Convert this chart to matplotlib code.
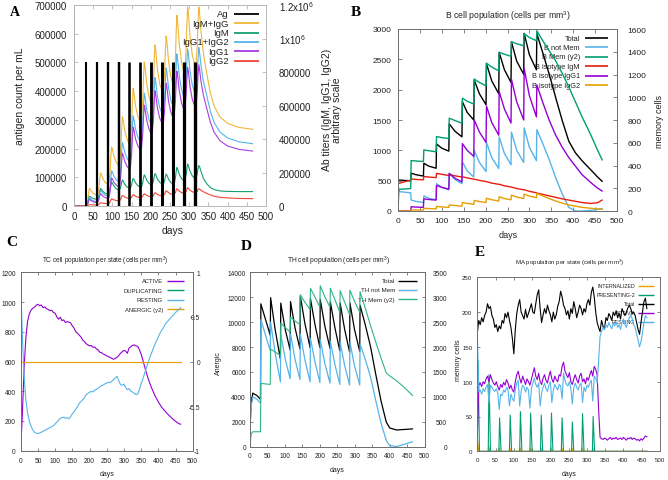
import numpy as np
import matplotlib.pyplot as plt

plt.rcParams['font.family'] = ['Liberation Sans', 'DejaVu Sans']
plt.rcParams['mathtext.fontset'] = 'custom'
plt.rcParams['mathtext.rm'] = 'Liberation Sans'

FW, FH = 668, 481

# ---------------- A: antigen and antibody titers ----------------
ag_days = [0, 30, 59, 88, 116, 144, 173, 201, 230, 258, 286, 315]
ag_peak = [675000, 500000, 500000, 500000, 500000, 500000,
           500000, 500000, 500000, 500000, 500000, 500000]

ab_days = [0, 10, 20,
           30, 33, 36, 38, 40, 42, 46, 52,
           59, 62, 65, 67, 69, 71, 75, 81,
           88, 91, 94, 96, 98, 100, 104, 110,
           116, 119, 122, 124, 126, 128, 132, 138,
           144, 147, 150, 152, 154, 156, 160, 166,
           173, 176, 179, 181, 183, 185, 189, 195,
           201, 204, 207, 209, 211, 213, 217, 223,
           230, 233, 236, 238, 240, 242, 246, 252,
           258, 261, 264, 266, 268, 270, 274, 280,
           286, 289, 292, 294, 296, 298, 302, 308,
           315, 318, 321, 323, 325, 327, 331, 337,
           345, 355, 365, 380, 400, 430, 465]
# titers in thousands
igm_k = [0, 0, 0,
         0, 3, 20, 44, 58, 56, 49, 43,
         40, 43, 63, 89, 105, 101, 88, 76,
         70, 74, 95, 124, 142, 136, 119, 103,
         95, 98, 116, 140, 155, 149, 130, 114,
         105, 108, 126, 150, 165, 159, 139, 122,
         112, 116, 138, 168, 186, 179, 156, 136,
         125, 128, 149, 177, 194, 186, 162, 142,
         130, 133, 151, 176, 191, 184, 161, 141,
         130, 135, 165, 205, 230, 220, 190, 164,
         150, 155, 185, 225, 250, 240, 208, 180,
         165, 169, 192, 223, 242, 235, 205, 165,
         135, 110, 98, 90, 87, 86, 86]
igg1_k = [0, 0, 0,
          0, 2, 14, 29, 39, 37, 30, 24,
          20, 23, 39, 60, 73, 70, 59, 50,
          45, 51, 88, 137, 167, 161, 141, 125,
          115, 125, 185, 265, 315, 304, 268, 237,
          220, 233, 308, 408, 471, 455, 403, 360,
          335, 348, 428, 535, 601, 580, 516, 461,
          430, 443, 520, 624, 688, 664, 589, 526,
          490, 502, 575, 672, 733, 708, 629, 562,
          525, 539, 623, 735, 805, 777, 690, 616,
          575, 588, 664, 766, 829, 801, 712, 637,
          595, 607, 682, 781, 843, 815, 740, 660,
          590, 500, 440, 390, 358, 338, 328]
igg2_k = [0, 0, 0,
          0, 0, 3, 6, 8, 8, 7, 6,
          5, 6, 10, 16, 20, 19, 17, 15,
          14, 15, 24, 36, 43, 41, 37, 33,
          30, 32, 42, 55, 63, 61, 54, 48,
          45, 46, 53, 62, 67, 66, 59, 53,
          50, 51, 58, 67, 73, 71, 64, 58,
          55, 56, 63, 73, 79, 77, 70, 63,
          60, 62, 71, 83, 91, 88, 80, 72,
          68, 70, 80, 94, 103, 100, 89, 80,
          75, 77, 87, 101, 109, 105, 95, 85,
          80, 81, 88, 97, 103, 101, 93, 85,
          76, 66, 58, 52, 48, 45, 44]

# ---------------- B: B cell population ----------------
b_days = [0, 2, 29, 30, 40, 58, 59, 70, 87, 88, 100, 116, 117, 130, 146,
          147, 158, 173, 174, 186, 201, 202, 214, 230, 231, 243, 258, 259,
          271, 287, 288, 300, 316, 317, 330, 345, 360, 375, 390, 405, 420,
          440, 455, 466]
b_not_mem = [480, 320, 300, 180, 160, 140, 250, 210, 185, 450, 390, 350,
             620, 520, 450, 810, 660, 560, 1000, 800, 650, 1130, 880, 700,
             1220, 950, 760, 1300, 1000, 800, 1370, 1050, 830, 1340, 1120,
             850, 550, 280, 60, 0, 0, 10, 25, 40]
b_mem = [0, 190, 197, 443, 440, 435, 537, 530, 520, 655, 645, 637, 816,
         795, 772, 992, 965, 940, 1160, 1130, 1101, 1300, 1265, 1233, 1395,
         1378, 1360, 1489, 1470, 1453, 1559, 1525, 1497, 1585, 1500, 1410,
         1320, 1210, 1090, 960, 830, 670, 540, 450]
b_igm = [450, 455, 510, 530, 520, 515, 570, 560, 550, 620, 605, 585, 600,
         580, 560, 565, 545, 525, 525, 505, 485, 485, 460, 440, 440, 415,
         395, 395, 370, 350, 350, 325, 300, 295, 275, 250, 225, 200, 180,
         160, 140, 125, 135, 180]
b_igg1 = [0, 0, 0, 70, 65, 60, 200, 190, 180, 420, 390, 360, 620, 540, 480,
          1110, 1000, 900, 1500, 1300, 1130, 1730, 1460, 1250, 1970, 1680,
          1450, 2170, 1800, 1500, 2350, 1900, 1550, 2080, 1800, 1500, 1250,
          1050, 880, 740, 600, 470, 380, 330]
b_igg2 = [0, 0, 0, 20, 17, 15, 45, 40, 35, 75, 67, 60, 100, 90, 80, 140,
          125, 110, 175, 155, 140, 210, 185, 165, 235, 205, 185, 260, 230,
          205, 280, 245, 220, 290, 250, 205, 165, 130, 100, 80, 60, 45, 35,
          30]

# ---------------- C: TC cells per state ----------------
tc_days = list(range(0, 466, 5))
tc_active = [0, 260, 560, 760, 870, 920, 945, 958, 965, 978, 985, 975, 980,
             962, 968, 955, 950, 942, 945, 930, 925, 900, 885, 898, 875, 880,
             862, 868, 865, 860, 840, 825, 800, 790, 778, 765, 745, 735, 720,
             712, 705, 708, 695, 698, 685, 678, 662, 660, 650, 645, 638, 632,
             628, 620, 615, 622, 628, 640, 655, 665, 675, 670, 655, 690, 700,
             708, 712, 705, 702, 680, 650, 610, 568, 525, 490, 455, 425, 398,
             372, 350, 328, 310, 292, 278, 265, 252, 240, 230, 218, 207, 198,
             190, 182, 178]
tc_resting = [1120, 760, 500, 340, 255, 200, 165, 140, 125, 118, 115, 120,
              125, 130, 138, 142, 150, 155, 162, 168, 180, 192, 205, 218, 222,
              225, 218, 222, 215, 228, 248, 262, 280, 295, 318, 330, 342, 355,
              375, 385, 392, 400, 395, 408, 412, 420, 430, 438, 442, 450, 455,
              460, 458, 468, 478, 490, 500, 470, 445, 440, 448, 425, 410, 418,
              400, 395, 385, 378, 380, 410, 450, 480, 520, 555, 590, 625, 655,
              685, 715, 740, 765, 790, 810, 828, 850, 865, 878, 890, 905, 915,
              930, 940, 950, 962]
tc_dup_days = [0, 465]
tc_dup = [0, 0]
tc_anergic = [0, 0]

# ---------------- D: TH cells ----------------
th_days = [0, 3, 8, 20, 30, 31, 45, 58, 59, 72, 87, 88, 101, 115, 116, 129,
           143, 144, 157, 172, 173, 186, 200, 201, 214, 229, 230, 243, 257,
           258, 271, 285, 286, 299, 314, 315, 330, 345, 360, 375, 390, 400,
           420, 440, 465]
th_not_mem = [1400, 3200, 4000, 3800, 3500, 10200, 8900, 7700, 10000, 7500,
              5200, 9050, 7000, 5450, 9050, 7000, 5400, 9050, 7000, 5200,
              8700, 6800, 5150, 8600, 6700, 5100, 8450, 6600, 5000, 8400,
              6500, 4950, 8400, 6500, 4950, 8250, 7000, 5600, 3700, 1900,
              500, 80, 20, 180, 400]
th_mem = [0, 250, 300, 300, 300, 1270, 1260, 1250, 1960, 1900, 1830, 2480,
          2390, 2300, 2600, 2520, 2450, 3050, 2900, 2750, 3180, 3000, 2800,
          3230, 3010, 2800, 3180, 2950, 2700, 3130, 2900, 2650, 3140, 2920,
          2700, 3110, 2780, 2430, 2100, 1780, 1480, 1420, 1320, 1200, 1030]

# ---------------- E: MA cells per state ----------------
ma_days = list(range(0, 465, 4))
ma_active = [18, 95, 98, 93, 100, 97, 104, 108, 100, 110,
             103, 98, 95, 100, 93, 88, 96, 92, 99, 95,
             103, 98, 90, 95, 88, 85, 100, 110, 115, 105,
             98, 108, 102, 96, 104, 100, 95, 103, 112, 120,
             108, 103, 112, 100, 96, 105, 110, 102, 98, 108,
             115, 104, 99, 108, 103, 100, 110, 108, 122, 128,
             115, 110, 106, 113, 100, 96, 104, 110, 103, 98,
             108, 112, 100, 104, 97, 106, 102, 110, 116, 108,
             122, 118, 110, 60, 20, 18, 17, 19, 18, 16,
             18, 20, 17, 19, 18, 20, 17, 18, 19, 17,
             20, 18, 16, 19, 18, 20, 17, 19, 18, 16,
             17, 15, 18, 16, 19, 22, 21]
ma_resting = [170, 85, 88, 82, 90, 86, 92, 96, 70, 95,
              92, 88, 86, 90, 84, 60, 82, 80, 88, 85,
              92, 88, 65, 82, 76, 72, 88, 98, 102, 65,
              86, 95, 92, 85, 92, 88, 62, 90, 98, 105,
              96, 92, 98, 65, 84, 92, 98, 90, 86, 95,
              100, 70, 88, 96, 92, 88, 96, 94, 75, 112,
              102, 96, 94, 100, 90, 68, 92, 98, 92, 88,
              95, 98, 70, 92, 86, 95, 92, 98, 102, 72,
              108, 105, 98, 130, 165, 172, 178, 175, 182, 178,
              185, 180, 176, 184, 180, 186, 178, 182, 175, 185,
              190, 182, 178, 186, 192, 196, 190, 182, 178, 168,
              160, 150, 158, 170, 185, 195, 192]
ma_total = [170, 188, 182, 192, 186, 195, 200, 212, 205, 208,
            195, 190, 178, 182, 172, 180, 176, 188, 184, 198,
            192, 200, 188, 178, 162, 140, 175, 198, 210, 218,
            200, 195, 190, 204, 192, 198, 205, 212, 200, 198,
            212, 225, 232, 205, 185, 196, 205, 198, 210, 202,
            196, 186, 200, 190, 196, 208, 215, 230, 222, 210,
            205, 196, 202, 190, 205, 198, 215, 205, 192, 200,
            210, 205, 196, 205, 200, 212, 218, 210, 228, 236,
            222, 200, 185, 178, 172, 188, 180, 175, 192, 188,
            198, 194, 188, 200, 195, 202, 192, 198, 190, 205,
            200, 195, 200, 206, 210, 205, 198, 200, 195, 185,
            175, 168, 185, 200, 215, 220, 205]
pres_days = [0, 2, 6, 30, 32, 36, 59, 61, 65, 88, 90, 94, 116, 118, 122,
             144, 146, 150, 173, 175, 179, 201, 203, 207, 230, 232, 236,
             258, 260, 264, 286, 288, 292, 315, 317, 321, 465]
pres_vals = [0, 130, 0, 0, 110, 0, 0, 48, 0, 0, 52, 0, 0, 57, 0, 0, 55, 0,
             0, 52, 0, 0, 55, 0, 0, 48, 0, 0, 42, 0, 0, 54, 0, 0, 50, 0, 0]
int_days = [0, 1, 4, 30, 31, 34, 59, 60, 63, 88, 89, 92, 116, 117, 120,
            144, 145, 148, 173, 174, 177, 201, 202, 205, 230, 231, 234,
            258, 259, 262, 286, 287, 290, 315, 316, 319, 465]
int_vals = [0, 15, 0, 0, 8, 0, 0, 5, 0, 0, 5, 0, 0, 5, 0, 0, 5, 0,
            0, 5, 0, 0, 5, 0, 0, 5, 0, 0, 5, 0, 0, 5, 0, 0, 5, 0, 0]

# colours (gnuplot-like)
BLACK = '#000000'
ORANGE = '#e69f00'
GREEN = '#009e73'
LBLUE = '#56b4e9'
PURPLE = '#9400d3'
RED = '#e51e10'
TXT = '#222222'

fig = plt.figure(figsize=(FW / 100, FH / 100), dpi=100)


def box(l, t, r, b):
    return [l / FW, 1 - b / FH, (r - l) / FW, (b - t) / FH]


def ftext(x, y, s, **kw):
    fig.text(x / FW, 1 - y / FH, s, ha='center', va='center', color=TXT, **kw)


def style(ax, fc, fs, tl, xpad, ypad):
    for s in ax.spines.values():
        s.set_color(fc)
        s.set_linewidth(0.7)
    ax.tick_params(direction='in', length=tl, width=0.6, color=fc,
                   labelcolor=TXT, labelsize=fs)
    ax.tick_params(axis='x', pad=xpad, top=True)
    ax.tick_params(axis='y', pad=ypad)


def key(ax, labels, colors, xt, x0, x1, y0, dy, fs, lw=1.2):
    # gnuplot style key: text right aligned, sample line after it
    for i, (lab, c) in enumerate(zip(labels, colors)):
        y = y0 - i * dy
        ax.text(xt, y, lab, transform=ax.transAxes, ha='right', va='center',
                fontsize=fs, color=TXT, zorder=1)
        ax.plot([x0, x1], [y, y], transform=ax.transAxes, color=c, lw=lw,
                zorder=1, solid_capstyle='butt')


xt = list(range(0, 501, 50))

# ---------------- panel A ----------------
axA = fig.add_axes(box(74, 6, 266, 207))
axA2 = axA.twinx()
axA.set_zorder(2)
axA.patch.set_visible(False)
tot_k = np.array(igm_k) + np.array(igg1_k) + np.array(igg2_k)
g12_k = np.array(igg1_k) + np.array(igg2_k)
axA2.plot(ab_days, tot_k * 1000, color='#f0b63a', lw=0.8)
axA2.plot(ab_days, np.array(igm_k) * 1000, color='#16a070', lw=0.8)
axA2.plot(ab_days, g12_k * 1000, color=LBLUE, lw=0.8)
axA2.plot(ab_days, np.array(igg1_k) * 1000, color='#a83ee0', lw=0.8)
axA2.plot(ab_days, np.array(igg2_k) * 1000, color='#f0483a', lw=0.8)
axA.vlines(ag_days, 0, ag_peak, colors=BLACK,
           linewidths=np.linspace(1.4, 2.4, len(ag_days)))
axA.set_xlim(0, 500)
axA.set_ylim(0, 700000)
axA2.set_ylim(0, 1200000)
axA.set_xticks(xt)
yA = list(range(0, 700001, 100000))
axA.set_yticks(yA)
axA.set_yticklabels([str(v) for v in yA])
yA2 = list(range(0, 1200001, 200000))
axA2.set_yticks(yA2)
axA2.set_yticklabels(['0', '200000', '400000', '600000', '800000',
                      r'1x10$^6$', r'1.2x10$^6$'])
style(axA, '#b8b8b8', 7, 3, 3.5, 5)
style(axA2, '#b8b8b8', 7, 3, 3.5, 9)
axA.tick_params(axis='y', right=False)
key(axA, ['Ag', 'IgM+IgG', 'IgM', 'IgG1+IgG2', 'IgG1', 'IgG2'],
    [BLACK, '#f0b63a', '#16a070', LBLUE, '#a83ee0', '#f0483a'],
    0.807, 0.833, 0.964, 0.957, 0.047, 6.8, lw=1.3)
ftext(20, 96, 'antigen count per mL', fontsize=7.5, rotation=90)
ftext(332, 110, 'Ab titers (IgM, IgG1, IgG2)\narbitrary scale', fontsize=7.5,
      rotation=90, linespacing=1.0)
ftext(173, 231, 'days', fontsize=7.5)

# ---------------- panel B ----------------
axB = fig.add_axes(box(398, 30, 617, 212))
axB2 = axB.twinx()
b_total = np.array(b_not_mem) + np.array(b_mem)
axB.plot(b_days, b_total, color=BLACK, lw=1.0, zorder=2)
axB.plot(b_days, b_not_mem, color=LBLUE, lw=1.0, zorder=2)
axB.plot(b_days, b_igm, color=RED, lw=1.0, zorder=2)
axB.plot(b_days, b_igg1, color=PURPLE, lw=1.0, zorder=2)
axB.plot(b_days, b_igg2, color=ORANGE, lw=1.0, zorder=2)
axB2.plot(b_days, b_mem, color=GREEN, lw=1.0)
axB.set_xlim(0, 500)
axB.set_ylim(0, 3000)
axB2.set_ylim(0, 1600)
axB.set_xticks(xt)
axB.set_yticks(range(0, 3001, 500))
axB2.set_yticks(range(0, 1601, 200))
style(axB, '#707070', 6, 3, 4.5, 4.5)
style(axB2, '#707070', 6, 3, 4.5, 7.5)
axB.tick_params(axis='y', right=False)
key(axB, ['Total', 'B not Mem', 'B Mem (y2)', 'B isotype IgM',
          'B isotype IgG1', 'B isotype IgG2'],
    [BLACK, LBLUE, GREEN, RED, PURPLE, ORANGE],
    0.831, 0.854, 0.959, 0.9505, 0.052, 5.3)
ftext(508, 16, 'B cell population (cells per mm$^3$)', fontsize=6.2)
ftext(508, 235, 'days', fontsize=6.5)
ftext(660, 122, 'memory cells', fontsize=6.5, rotation=90)

# ---------------- panel C ----------------
axC = fig.add_axes(box(20.7, 273.3, 192.7, 451.7))
axC2 = axC.twinx()
axC.plot(tc_days, tc_active, color=PURPLE, lw=0.8, zorder=2)
axC.plot(tc_dup_days, tc_dup, color=GREEN, lw=0.8, zorder=2)
axC.plot(tc_days, tc_resting, color=LBLUE, lw=0.8, zorder=2)
axC2.plot(tc_dup_days, tc_anergic, color=ORANGE, lw=0.8)
axC.set_xlim(0, 500)
axC.set_ylim(0, 1200)
axC2.set_ylim(-1, 1)
axC.set_xticks(xt)
axC.set_yticks(range(0, 1201, 200))
axC2.set_yticks([-1, -0.5, 0, 0.5, 1])
axC2.set_yticklabels(['-1', '-0.5', '0', '0.5', '1'])
style(axC, '#707070', 4.8, 2.5, 4.2, 3.6)
style(axC2, '#707070', 4.8, 2.5, 4.2, 5.3)
axC.tick_params(axis='y', right=False)
for t in axC2.get_yticklabels():
    t.set_horizontalalignment('right')
key(axC, ['ACTIVE', 'DUPLICATING', 'RESTING', 'ANERGIC (y2)'],
    [PURPLE, GREEN, LBLUE, ORANGE],
    0.827, 0.851, 0.949, 0.953, 0.0532, 4.2, lw=1.0)
ftext(105.5, 261, 'TC cell population per state (cells per mm$^3$)', fontsize=4.7)
ftext(107, 475, 'days', fontsize=5)
ftext(218, 363, 'Anergic', fontsize=5, rotation=90)

# ---------------- panel D ----------------
axD = fig.add_axes(box(250, 273.3, 424.7, 447.7))
axD2 = axD.twinx()
th_total = np.array(th_not_mem) + np.array(th_mem)
axD.plot(th_days, th_total, color=BLACK, lw=0.9, zorder=2)
axD.plot(th_days, th_not_mem, color=LBLUE, lw=0.9, zorder=2)
axD2.plot(th_days, th_mem, color='#2fb584', lw=0.8)
axD.set_xlim(0, 500)
axD.set_ylim(0, 14000)
axD2.set_ylim(0, 3500)
axD.set_xticks(xt)
axD.set_yticks(range(0, 14001, 2000))
axD2.set_yticks(range(0, 3501, 500))
style(axD, '#707070', 4.8, 2.5, 3.6, 2.9)
style(axD2, '#707070', 4.8, 2.5, 3.6, 16)
axD.tick_params(axis='y', right=False)
for t in axD2.get_yticklabels():
    t.set_horizontalalignment('right')
key(axD, ['Total', 'TH not Mem', 'TH Mem (y2)'], [BLACK, LBLUE, '#2fb584'],
    0.83, 0.847, 0.956, 0.952, 0.0533, 4.5, lw=1.0)
ftext(338.5, 261, 'TH cell population (cells per mm$^3$)', fontsize=4.9)
ftext(337, 471, 'days', fontsize=5)

# ---------------- panel E ----------------
axE = fig.add_axes(box(477.3, 278.3, 660, 452.3))
axE.plot(int_days, int_vals, color=ORANGE, lw=0.8, zorder=2)
axE.plot(pres_days, pres_vals, color=GREEN, lw=0.8, zorder=2)
axE.plot(ma_days, ma_total, color=BLACK, lw=0.8, zorder=2)
axE.plot(ma_days, ma_active, color=PURPLE, lw=0.8, zorder=2)
axE.plot(ma_days, ma_resting, color=LBLUE, lw=0.8, zorder=2)
axE.set_xlim(0, 500)
axE.set_ylim(0, 250)
axE.set_xticks(xt)
axE.set_yticks(range(0, 251, 50))
style(axE, '#707070', 4.4, 2.5, 4.3, 3.6)
axE.tick_params(axis='y', right=True)
key(axE, ['INTERNALIZED', 'PRESENTING-2', 'Total', 'ACTIVE', 'RESTING'],
    [ORANGE, GREEN, BLACK, PURPLE, LBLUE],
    0.863, 0.88, 0.967, 0.952, 0.052, 3.8, lw=1.0)
ftext(569.5, 263, 'MA population per state (cells per mm$^3$)', fontsize=4.4)
ftext(569, 475, 'days', fontsize=5)
ftext(459, 360, 'memory cells', fontsize=5, rotation=90)

# panel letters
for lab, x, y, fs in [('A', 15, 12.5, 10), ('B', 356, 12, 11), ('C', 12, 243, 11),
                      ('D', 246, 247, 11), ('E', 480, 253, 11)]:
    fig.text(x / FW, 1 - y / FH, lab, ha='center', va='center', fontsize=fs,
             fontweight='bold', family='Liberation Serif', color='black')

fig.savefig('out.png', dpi=100)
